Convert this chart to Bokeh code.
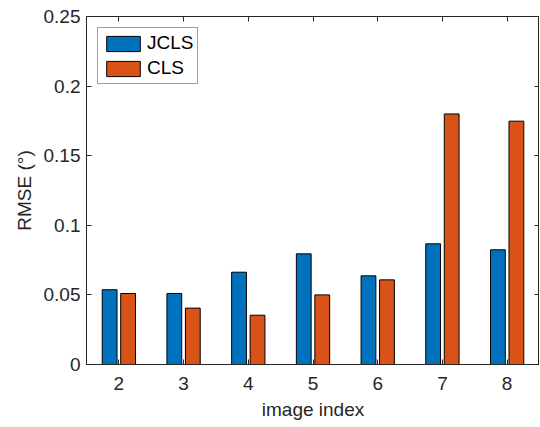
from bokeh.plotting import figure
from bokeh.models import FixedTicker, LinearAxis, Range1d, ColumnDataSource
from bokeh.transform import dodge
from bokeh.embed import file_html
from bokeh.resources import INLINE

# ---- data ----
image_index = [2, 3, 4, 5, 6, 7, 8]
jcls = [0.0537, 0.0510, 0.0663, 0.0795, 0.0637, 0.0867, 0.0824]
cls = [0.0510, 0.0405, 0.0354, 0.0500, 0.0608, 0.1800, 0.1748]
series_names = ["JCLS", "CLS"]
y_ticks = [0, 0.05, 0.1, 0.15, 0.2, 0.25]
y_tick_labels = ["0", "0.05", "0.1", "0.15", "0.2", "0.25"]
x_tick_labels = ["2", "3", "4", "5", "6", "7", "8"]

FONT = "Liberation Sans"
AX = "#262626"
FS = "19px"

src = ColumnDataSource(dict(x=image_index, jcls=jcls, cls=cls))

p = figure(
    output_backend="svg", toolbar_location=None,
    frame_width=453, frame_height=348,
    min_border_left=86, min_border_top=16, min_border_right=0, min_border_bottom=2,
    x_range=Range1d(1.5, 8.5), y_range=Range1d(0, 0.25),
)
p.outline_line_color = AX
p.outline_line_width = 1
p.grid.visible = False
p.background_fill_color = "white"
p.border_fill_color = "white"

bw = 0.2286
off = 0.1429
p.vbar(x=dodge("x", -off, range=p.x_range), top="jcls", width=bw, source=src,
       fill_color="#0072BD", line_color="black", line_width=1, legend_label=series_names[0])
p.vbar(x=dodge("x", off, range=p.x_range), top="cls", width=bw, source=src,
       fill_color="#D95319", line_color="black", line_width=1, legend_label=series_names[1])

# bottom / left axes
xa = p.xaxis[0]
xa.ticker = FixedTicker(ticks=image_index)
xa.major_label_overrides = {v: s for v, s in zip(image_index, x_tick_labels)}
xa.axis_label = "image index"
ya = p.yaxis[0]
ya.ticker = FixedTicker(ticks=y_ticks)
ya.major_label_overrides = {v: s for v, s in zip(y_ticks, y_tick_labels)}
ya.axis_label = "RMSE (°)"

for ax in (xa, ya):
    ax.axis_line_color = AX
    ax.major_tick_line_color = AX
    ax.major_tick_in = 5
    ax.major_tick_out = 0
    ax.minor_tick_line_color = None
    ax.major_label_text_font = FONT
    ax.major_label_text_font_size = FS
    ax.major_label_text_color = AX
    ax.axis_label_text_font = FONT
    ax.axis_label_text_font_size = FS
    ax.axis_label_text_color = AX
    ax.axis_label_text_font_style = "normal"
xa.major_label_standoff = 12
xa.axis_label_standoff = 6
ya.major_label_standoff = 6
ya.axis_label_standoff = 6

# top and right tick-only axes (box on)
top = LinearAxis(ticker=FixedTicker(ticks=image_index))
right = LinearAxis(ticker=FixedTicker(ticks=y_ticks))
for ax, ticks in ((top, image_index), (right, y_ticks)):
    ax.axis_line_color = None
    ax.major_tick_line_color = AX
    ax.major_tick_in = 5
    ax.major_tick_out = 0
    ax.minor_tick_line_color = None
    ax.major_label_overrides = {v: "" for v in ticks}
    ax.major_label_text_font_size = "1px"
    ax.major_label_standoff = 0
    ax.axis_label_standoff = 0
p.add_layout(top, "above")
p.add_layout(right, "right")

lg = p.legend[0]
lg.location = "top_left"
lg.margin = 11
lg.padding = 4
lg.spacing = 3
lg.glyph_width = 42
lg.glyph_height = 19
lg.label_standoff = 3
lg.label_text_font = FONT
lg.label_text_font_size = FS
lg.label_text_color = "black"
lg.label_height = 19
lg.border_line_color = "#404040"
lg.border_line_width = 1
lg.background_fill_color = "white"
lg.background_fill_alpha = 1

open("out.html", "w").write(file_html(p, INLINE))
